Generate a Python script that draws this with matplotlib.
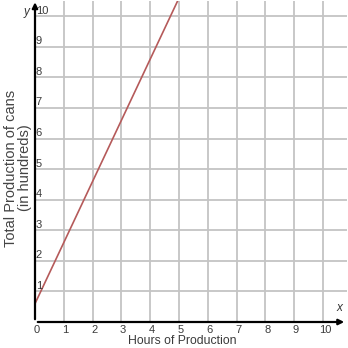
import numpy as np
import matplotlib.pyplot as plt

plt.rcParams['font.family'] = ['Liberation Sans', 'DejaVu Sans']

hours = [0, 5]
production = [0.6, 10.6]
ticks = list(range(0, 11))

fig = plt.figure(figsize=(3.48, 3.48), dpi=100)
ax = fig.add_axes([35 / 348, 26 / 348, 312 / 348, 321 / 348])
ax.set_xlim(0, 10.83)
ax.set_ylim(0, 10.5)

for t in ticks[1:]:
    ax.axvline(t, color='#c4c4c4', lw=1.3, zorder=1)
    ax.axhline(t, color='#c4c4c4', lw=1.3, zorder=1)

ax.plot(hours, production, color='#b55a5a', lw=1.2, zorder=3, clip_on=True)

for s in ax.spines.values():
    s.set_visible(False)
ax.set_xticks([])
ax.set_yticks([])

# axes with arrow heads
ax.annotate('', xy=(10.83, 0), xytext=(0, 0), xycoords='data',
            arrowprops=dict(arrowstyle='-|>', color='black', lw=1.6, mutation_scale=8),
            annotation_clip=False, zorder=4)
ax.annotate('', xy=(0, 10.55), xytext=(0, 0), xycoords='data',
            arrowprops=dict(arrowstyle='-|>', color='black', lw=1.6, mutation_scale=8),
            annotation_clip=False, zorder=4)

for t in ticks:
    ax.text(t + 0.06, -0.1, str(t), ha='center', va='top', fontsize=8, color='#3a3a3a', clip_on=False)
for t in ticks[1:]:
    ax.text(0.03, t + 0.02, str(t), ha='left', va='bottom', fontsize=8, color='#3a3a3a', zorder=5)

ax.text(10.55, 0.25, 'x', ha='center', va='bottom', fontsize=8.5, style='italic', color='#333333')
ax.text(-0.3, 10.15, 'y', ha='center', va='center', fontsize=8.5, style='italic', color='#333333', clip_on=False)

fig.text(182 / 348, 7 / 348, 'Hours of Production', ha='center', va='center', fontsize=8.8, color='#3a3a3a')
fig.text(18 / 348, 180 / 348, 'Total Production of cans\n(in hundreds)', ha='center', va='center',
         rotation=90, fontsize=10.5, color='#444444', linespacing=1.05)

fig.savefig('out.png', dpi=100)
